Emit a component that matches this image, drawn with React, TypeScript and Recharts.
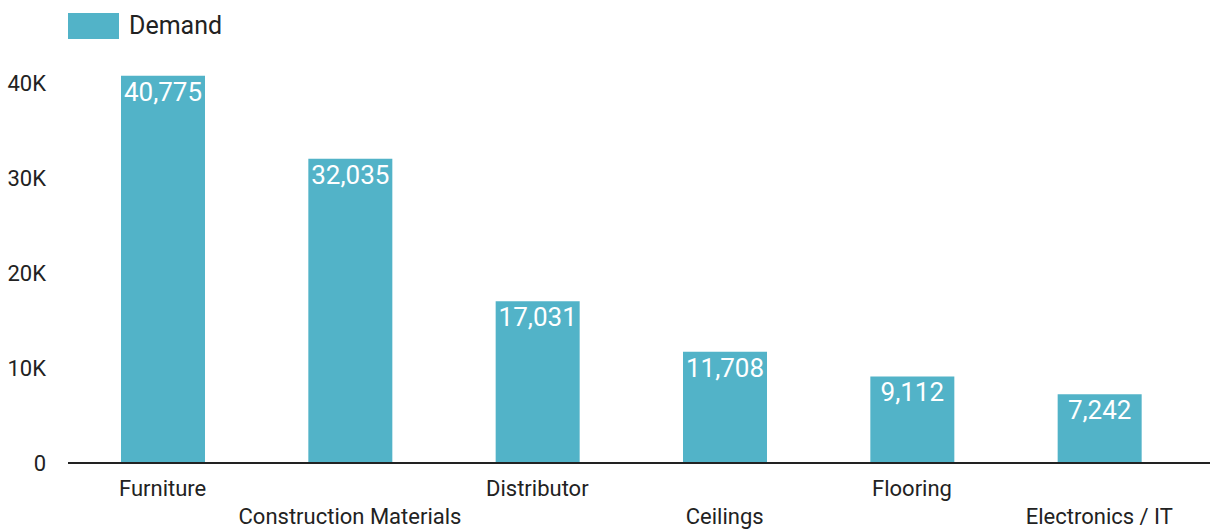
import { BarChart, Bar, XAxis, YAxis, Legend, LabelList } from "recharts";

const categories = [
  "Furniture",
  "Construction Materials",
  "Distributor",
  "Ceilings",
  "Flooring",
  "Electronics / IT",
];
const demand = [40775, 32035, 17031, 11708, 9112, 7242];
const yTicks = [0, 10000, 20000, 30000, 40000];

const BAR_COLOR = "#52b3c8";
const TEXT_COLOR = "#222";

const data = categories.map((name, i) => ({ name, demand: demand[i] }));

// categories alternate between two rows so the long names don't collide
function StaggeredTick(props: any) {
  const { x, y, payload, index } = props;
  const row = index % 2 === 0 ? 0 : 1;
  return (
    <text
      x={x}
      y={y + 25 + row * 28}
      textAnchor="middle"
      fontSize={22}
      fill={TEXT_COLOR}
      fontFamily="Roboto"
    >
      {payload.value}
    </text>
  );
}

function YTick(props: any) {
  const { x, y, payload } = props;
  const v = payload.value as number;
  return (
    <text
      x={x - 14}
      y={y}
      dy={8}
      textAnchor="end"
      fontSize={22}
      fill={TEXT_COLOR}
      fontFamily="Roboto"
    >
      {v === 0 ? "0" : `${v / 1000}K`}
    </text>
  );
}

function BarValue(props: any) {
  const { x, y, width, value } = props;
  return (
    <text
      x={x + width / 2}
      y={y + 25}
      textAnchor="middle"
      fontSize={26}
      fill="#fff"
      fontFamily="Roboto"
    >
      {Number(value).toLocaleString("en-US")}
    </text>
  );
}

function LegendContent() {
  return (
    <div style={{ display: "flex", alignItems: "center", fontFamily: "Roboto" }}>
      <div style={{ width: 51, height: 26, background: BAR_COLOR, marginRight: 10 }} />
      <span style={{ fontSize: 25, color: TEXT_COLOR }}>Demand</span>
    </div>
  );
}

export default function App() {
  return (
    <div style={{ position: "absolute", left: 0, top: 0, background: "#fff" }}>
      <BarChart
        width={1210}
        height={529}
        data={data}
        margin={{ top: 35.5, right: 0, bottom: 0, left: 0 }}
      >
        <Legend
          layout="horizontal"
          verticalAlign="middle"
          align="center"
          content={<LegendContent />}
          wrapperStyle={{ position: "absolute", top: 11, left: 68, width: "auto" }}
        />
        <XAxis
          dataKey="name"
          interval={0}
          height={66}
          tickLine={false}
          axisLine={{ stroke: "#222", strokeWidth: 2 }}
          padding={{ left: 1, right: 17 }}
          tick={<StaggeredTick />}
        />
        <YAxis
          width={68}
          domain={[0, 45000]}
          ticks={yTicks}
          tickLine={false}
          axisLine={false}
          tick={<YTick />}
        />
        <Bar dataKey="demand" fill={BAR_COLOR} barSize={84} isAnimationActive={false}>
          <LabelList dataKey="demand" content={<BarValue />} />
        </Bar>
      </BarChart>
    </div>
  );
}
